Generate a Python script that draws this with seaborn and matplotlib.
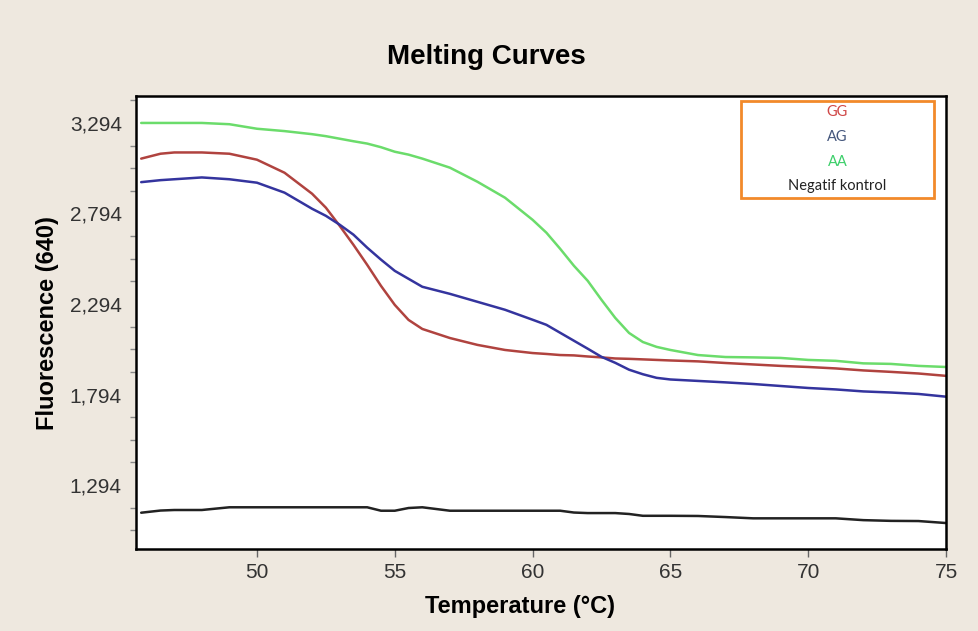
import matplotlib
matplotlib.use("Agg")
import matplotlib.pyplot as plt
from matplotlib.ticker import MultipleLocator, FuncFormatter
from matplotlib.patches import Rectangle
import seaborn as sns
import pandas as pd

# Temperatures (°C) at which the curves were read
temperature = [45.8, 46.5, 47, 48, 49, 50, 51, 52, 52.5, 53, 53.5, 54, 54.5, 55, 55.5,
               56, 57, 58, 59, 60, 60.5, 61, 61.5, 62, 62.5, 63, 63.5, 64, 64.5, 65,
               66, 67, 68, 69, 70, 71, 72, 73, 74, 75]

# Fluorescence (640) for each genotype
gg = [3097, 3124, 3131, 3131, 3124, 3091, 3019, 2903, 2826, 2726, 2621, 2510, 2394, 2289, 2206,
      2156, 2106, 2068, 2040, 2023, 2018, 2012, 2010, 2004, 1999, 1993, 1991, 1988, 1985, 1982,
      1977, 1968, 1960, 1952, 1946, 1938, 1927, 1919, 1910, 1897]
ag = [2967, 2978, 2983, 2993, 2983, 2964, 2909, 2820, 2781, 2732, 2677, 2605, 2539, 2477, 2433,
      2389, 2350, 2306, 2262, 2207, 2179, 2135, 2091, 2047, 2002, 1969, 1931, 1906, 1886, 1877,
      1869, 1861, 1852, 1841, 1830, 1822, 1811, 1805, 1797, 1782]
aa = [3294, 3294, 3294, 3294, 3287, 3262, 3249, 3232, 3221, 3207, 3193, 3180, 3160, 3135, 3119,
      3097, 3047, 2969, 2881, 2759, 2688, 2599, 2505, 2422, 2317, 2217, 2134, 2084, 2057, 2040,
      2012, 2001, 1999, 1996, 1985, 1980, 1966, 1963, 1952, 1946]
negatif = [1141, 1153, 1156, 1156, 1171, 1171, 1171, 1171, 1171, 1171, 1171, 1171, 1152, 1152, 1167,
           1171, 1152, 1152, 1152, 1152, 1152, 1152, 1142, 1139, 1139, 1139, 1134, 1124, 1124, 1124,
           1123, 1117, 1110, 1110, 1110, 1110, 1100, 1096, 1095, 1084]

series_names = ["GG", "AG", "AA", "Negatif kontrol"]
line_colors = ["#b0433f", "#34349e", "#6bdc6b", "#222222"]
label_colors = ["#d04848", "#45577d", "#3ccf6a", "#222222"]

x_ticks = [50, 55, 60, 65, 70, 75]

df = pd.concat([
    pd.DataFrame({"Temperature": temperature, "Fluorescence": vals, "Sample": name})
    for name, vals in zip(series_names, [gg, ag, aa, negatif])
])

sns.set_style("white")
plt.rcParams["font.family"] = ["Liberation Sans", "DejaVu Sans"]

bg = "#eee8df"
fig = plt.figure(figsize=(9.79, 6.31), dpi=100, facecolor=bg)
ax = fig.add_axes([0.1386, 0.1295, 0.8277, 0.7184])
ax.set_facecolor("white")

sns.lineplot(data=df, x="Temperature", y="Fluorescence", hue="Sample",
             hue_order=series_names, palette=line_colors, estimator=None,
             sort=True, linewidth=1.8, legend=False, ax=ax)

ax.set_xlim(45.6, 75)
ax.set_ylim(939, 3443)
ax.set_xticks(x_ticks)
ax.yaxis.set_major_locator(MultipleLocator(500, offset=294))
ax.yaxis.set_minor_locator(MultipleLocator(125, offset=44))
ax.yaxis.set_major_formatter(FuncFormatter(lambda v, p: f"{int(round(v)):,}"))
ax.tick_params(axis="both", which="major", direction="out", length=6, width=1,
               color="#666666", labelsize=15, labelcolor="#333333", pad=4)
ax.tick_params(axis="y", which="minor", direction="out", length=4, width=1,
               color="#888888", left=True)
ax.tick_params(axis="x", bottom=True)

for sp in ax.spines.values():
    sp.set_visible(True)
    sp.set_color("black")
    sp.set_linewidth(1.8)

ax.set_xlabel("Temperature (°C)", fontsize=17, fontweight="bold", color="black")
ax.set_ylabel("Fluorescence (640)", fontsize=17, fontweight="bold", color="black")
ax.xaxis.set_label_coords(0.474, -0.1)
ax.yaxis.set_label_coords(-0.095, 0.5)

fig.suptitle("Melting Curves", x=0.497, y=0.91, va="center",
             fontsize=20, fontweight="heavy", color="black")

# legend box (text only, coloured labels)
ax.add_patch(Rectangle((0.747, 0.775), 0.238, 0.214, transform=ax.transAxes,
                       facecolor="white", edgecolor="#f28a2a", linewidth=2, zorder=5))
for i, (name, c) in enumerate(zip(series_names, label_colors)):
    ax.text(0.866, 0.964 - i * 0.0545, name, transform=ax.transAxes, ha="center",
            va="center", color=c, fontsize=10.5, family=["Lato", "DejaVu Sans"], zorder=6)

fig.savefig("out.png", dpi=100, facecolor=bg)
